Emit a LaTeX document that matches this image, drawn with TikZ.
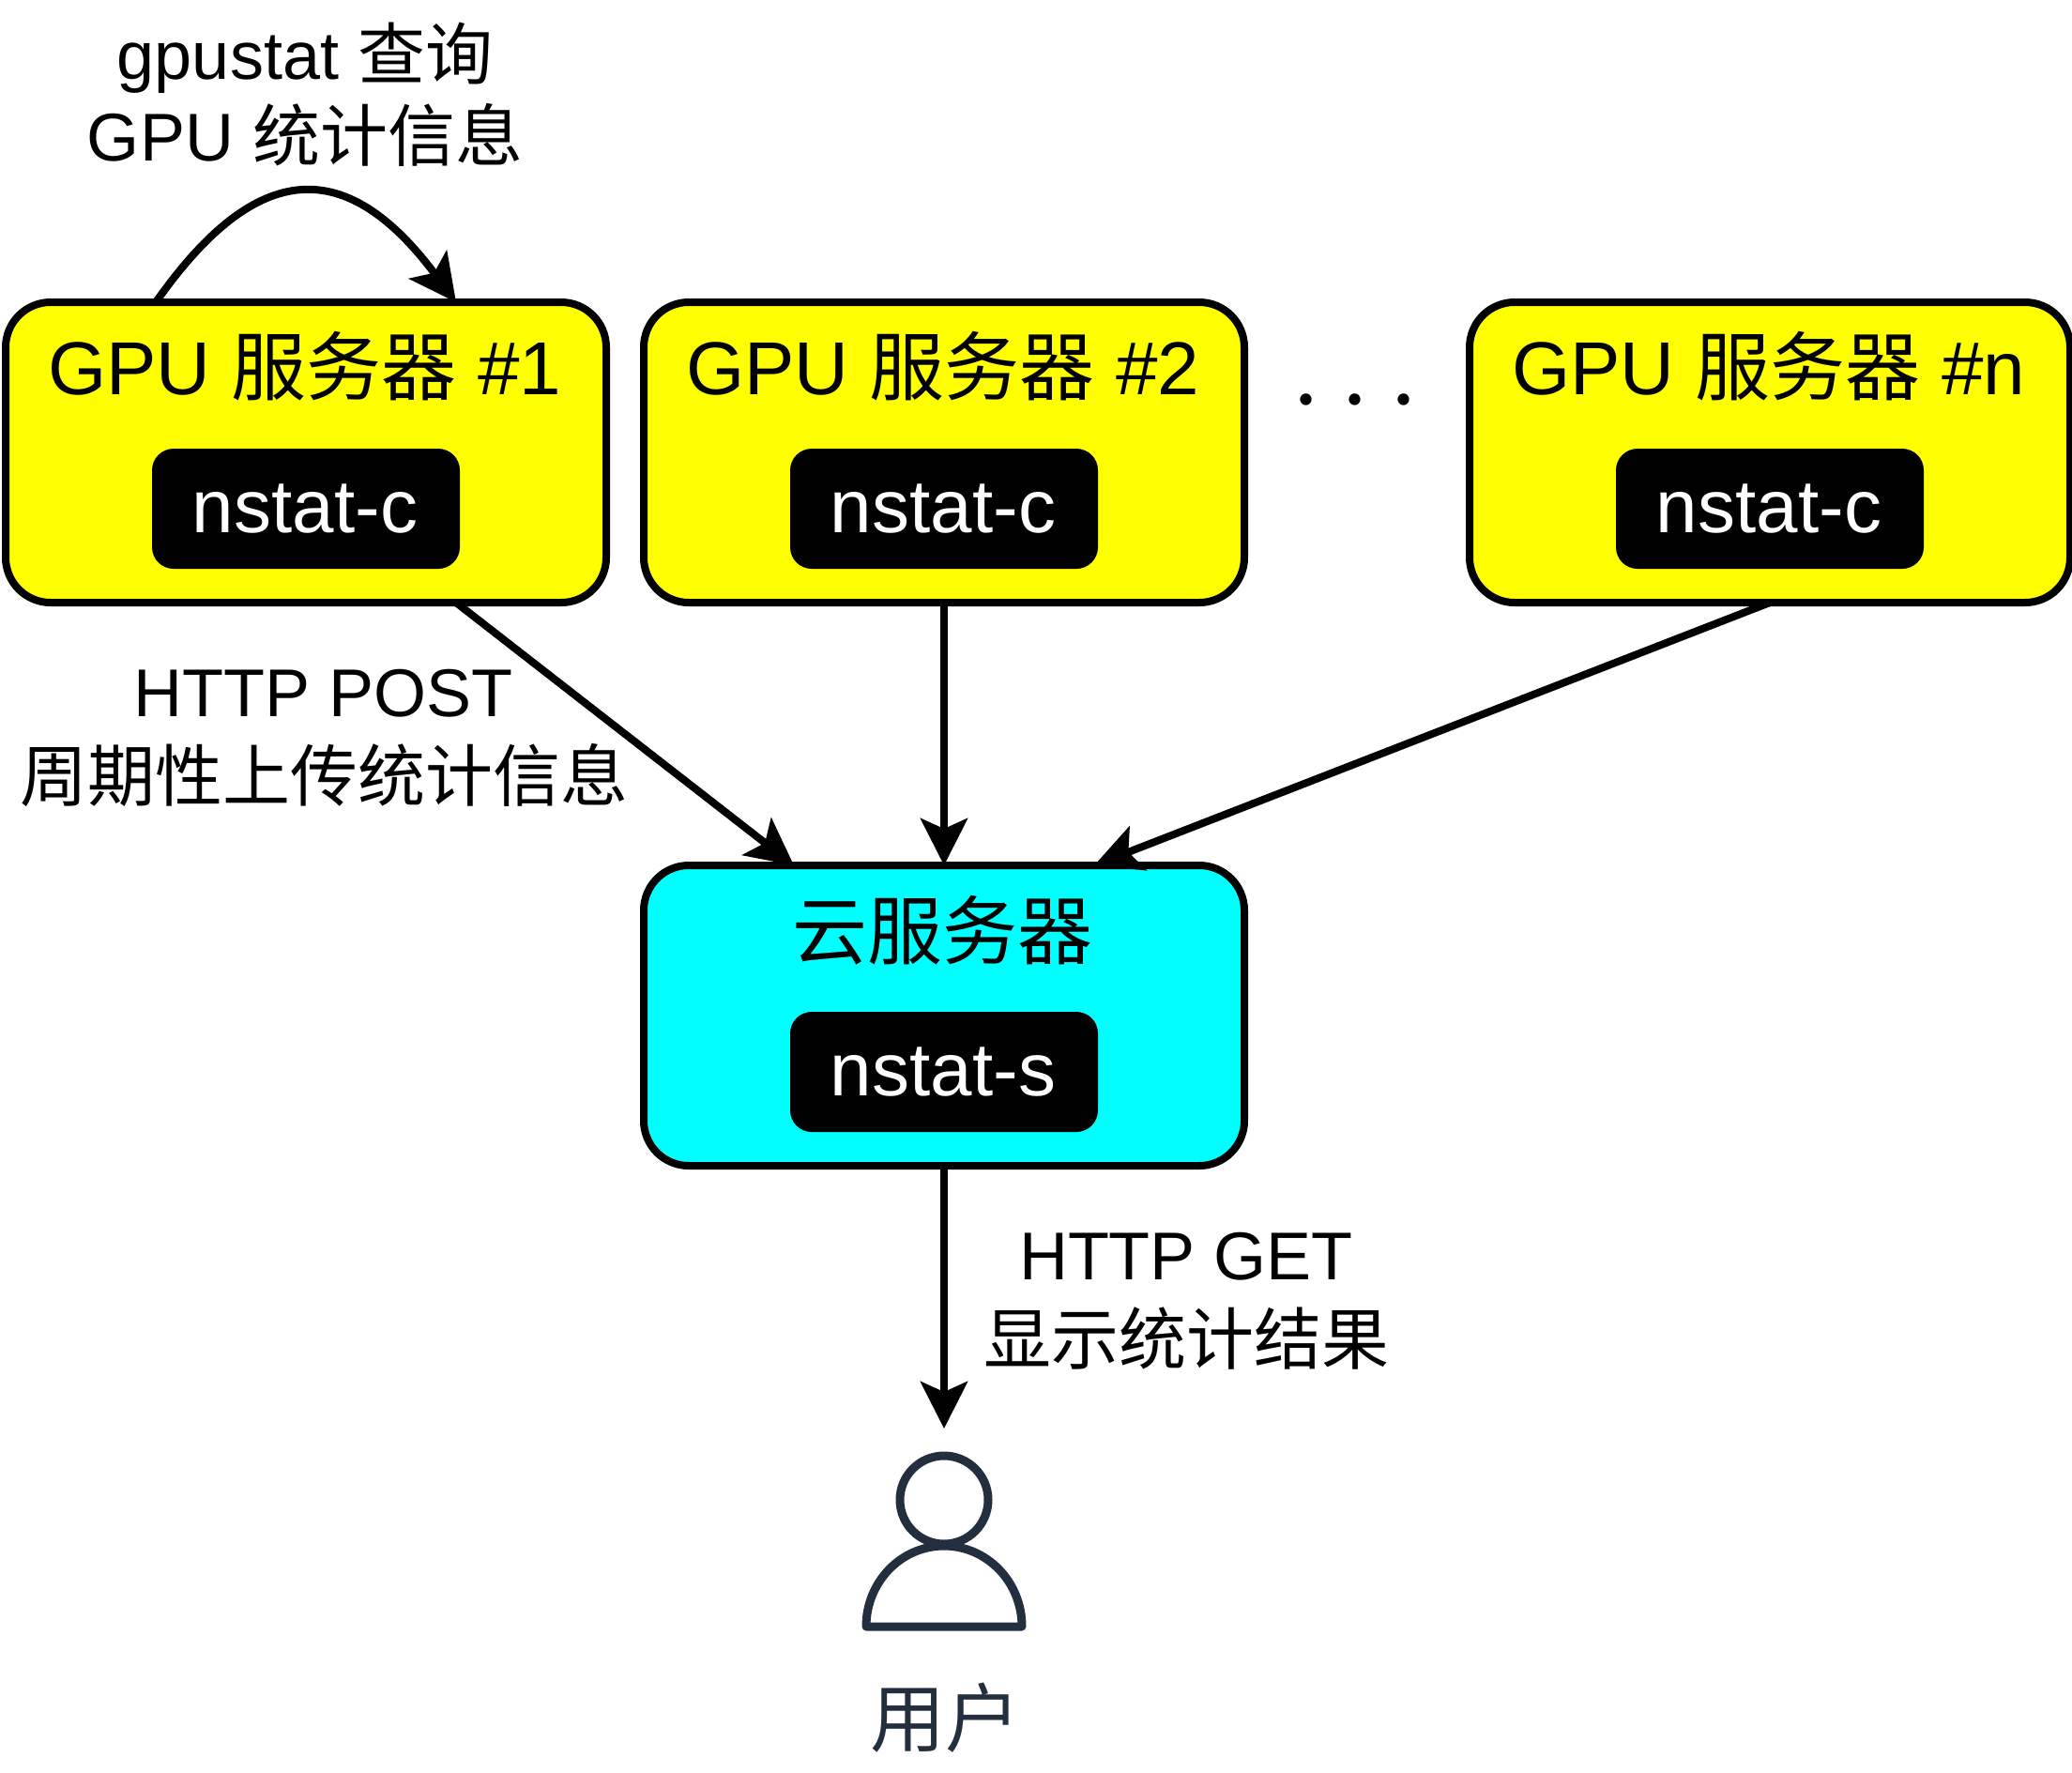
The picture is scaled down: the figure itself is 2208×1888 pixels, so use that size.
\documentclass[tikz,border=0pt]{standalone}
\usepackage{fontspec}
\setmainfont{Liberation Sans}
\newfontfamily\zh{Noto Sans CJK SC}
\newfontfamily\dotfont{Poppins}
\usetikzlibrary{arrows.meta,calc}
\definecolor{usercol}{HTML}{232F3E}
\definecolor{boxyellow}{RGB}{255,255,0}
\definecolor{boxcyan}{RGB}{0,255,255}
\tikzset{
  server/.style={draw=black,line width=8pt,rounded corners=48pt,minimum width=640pt,minimum height=320pt,outer sep=0pt,inner sep=0pt},
  agent/.style={fill=black,text=white,rounded corners=23pt,minimum width=328pt,minimum height=128pt,outer sep=0pt,inner sep=0pt,font=\fontsize{80}{96}\selectfont},
  boxtitle/.style={inner sep=0pt,font=\fontsize{80}{96}\selectfont},
  note/.style={inner sep=0pt,align=center,font=\fontsize{72}{87}\selectfont},
  notewide/.style={inner sep=0pt,align=center,font=\fontsize{72}{90}\selectfont},
  link/.style={line width=8pt,-{Stealth[length=50pt,width=50pt,inset=11pt]}},
  usericon/.style={draw=usercol,line width=9pt,line join=round}
}
\begin{document}
\begin{tikzpicture}[x=1pt,y=-1pt]
\useasboundingbox (0,0) rectangle (2208,1888);
% servers
\node[server,fill=boxyellow] (s1) at (326,482) {};
\node[server,fill=boxyellow] (s2) at (1006,482) {};
\node[server,fill=boxyellow] (sn) at (1886,482) {};
\node[server,fill=boxcyan] (cloud) at (1006,1082) {};
% titles
\node[boxtitle] (t1) at (324.6,390) {GPU {\zh 服务器} \#1};
\node[boxtitle] (t2) at (1004.6,390) {GPU {\zh 服务器} \#2};
\node[boxtitle] (tn) at (1884.6,390) {GPU {\zh 服务器} \#n};
\node[boxtitle] (tc) at (1004,991) {\zh 云服务器};
% agents
\node[agent] (a1) at (326,542) {\kern-2pt nstat-c};
\node[agent] (a2) at (1006,542) {\kern-2pt nstat-c};
\node[agent] (an) at (1886,542) {\kern-2pt nstat-c};
\node[agent] (ac) at (1006,1142) {\kern-2pt nstat-s};
% dots
\node[anchor=base,inner sep=0pt,font=\fontsize{100}{110}\selectfont\dotfont] (dots) at (1444,431) {\makebox[52pt]{.}\makebox[52pt]{.}\makebox[52pt]{.}};
% labels
\node[note] (l1) at (325,101) {gpustat {\zh 查询}\\GPU {\zh 统计信息}};
\node[notewide] (l2) at (345,786) {HTTP POST\\{\zh 周期性上传统计信息}};
\node[notewide] (l3) at (1264,1386) {HTTP GET\\{\zh 显示统计结果}};
% user icon
\coordinate (userhead) at (1006,1598);
\coordinate (usertop) at (1006,1522);
\draw[usericon] (userhead) circle (47pt);
\draw[usericon] (923,1733) arc[start angle=180,end angle=360,x radius=83pt,y radius=-86pt] -- cycle;
\node[inner sep=0pt,text=usercol,font=\fontsize{80}{96}\selectfont\zh] (user) at (1007,1830) {用户};
% connectors
\coordinate (s1a) at ($(s1.north west)!.25!(s1.north east)$);
\coordinate (s1b) at ($(s1.north west)!.75!(s1.north east)$);
\coordinate (s1c) at ($(s1.south west)!.75!(s1.south east)$);
\coordinate (c1) at ($(cloud.north west)!.25!(cloud.north east)$);
\coordinate (c2) at ($(cloud.north west)!.75!(cloud.north east)$);
\draw[link] (s1a) .. controls (275,167) and (370,167) .. (s1b);
\draw[link] (s1c) -- (c1);
\draw[link] (s2.south) -- (cloud.north);
\draw[link] (sn.south) -- (c2);
\draw[link] (cloud.south) -- (usertop);
\end{tikzpicture}
\end{document}
